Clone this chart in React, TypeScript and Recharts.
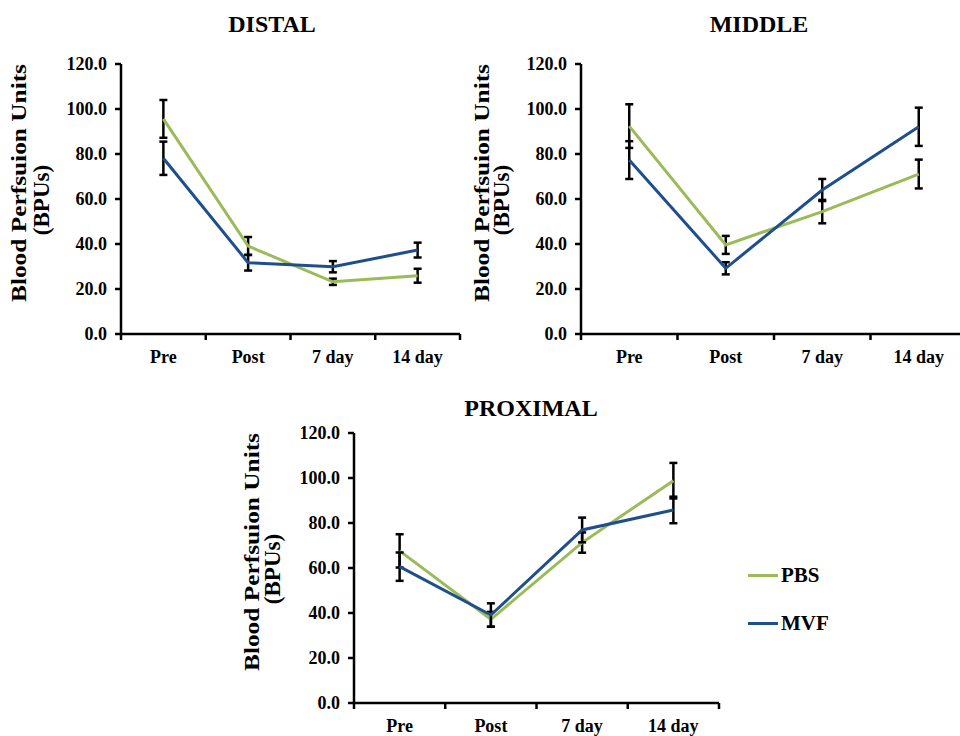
import React from 'react';
import { LineChart, Line, XAxis, YAxis, ErrorBar } from 'recharts';

const categories = ['Pre', 'Post', '7 day', '14 day'];
const yTicks = [0, 20, 40, 60, 80, 100, 120];

const distalPbs = [95.6, 39.1, 23.2, 25.9];
const distalPbsErr = [8.4, 4.0, 1.4, 3.1];
const distalMvf = [78.1, 31.7, 29.9, 37.3];
const distalMvfErr = [7.4, 3.5, 2.5, 3.3];

const middlePbs = [92.4, 39.6, 54.4, 71.1];
const middlePbsErr = [9.7, 4.0, 5.2, 6.4];
const middleMvf = [77.3, 29.2, 64.0, 92.1];
const middleMvfErr = [8.4, 2.7, 4.9, 8.5];

const proximalPbs = [67.6, 37.2, 71.3, 98.8];
const proximalPbsErr = [7.4, 3.3, 4.5, 7.9];
const proximalMvf = [60.6, 39.1, 76.9, 85.8];
const proximalMvfErr = [6.3, 5.2, 5.5, 5.9];

const GREEN = '#9BBB59';
const BLUE = '#1F4E8C';
const FONT = '"Liberation Serif", "Times New Roman", serif';

const buildRows = (pbs: number[], pbsErr: number[], mvf: number[], mvfErr: number[]) =>
  categories.map((cat, i) => ({ cat, pbs: pbs[i], pbsErr: pbsErr[i], mvf: mvf[i], mvfErr: mvfErr[i] }));

// two-line rotated axis title, placed relative to the axis line
const YTitle = ({ viewBox, off1, off2 }: any) => {
  if (!viewBox) return null;
  const ax = viewBox.x + viewBox.width;
  const cy = viewBox.y + viewBox.height / 2;
  const x1 = ax - off1;
  const y1 = cy - 16;
  const x2 = ax - off2;
  const y2 = cy + 1;
  return (
    <g>
      <text x={x1} y={y1} transform={`rotate(-90, ${x1}, ${y1})`} textAnchor="middle" dominantBaseline="central"
        fontFamily={FONT} fontWeight="bold" fontSize={22} fill="#000" textLength={238} lengthAdjust="spacingAndGlyphs">
        Blood Perfsuion Units
      </text>
      <text x={x2} y={y2} transform={`rotate(-90, ${x2}, ${y2})`} textAnchor="middle" dominantBaseline="central"
        fontFamily={FONT} fontWeight="bold" fontSize={23} fill="#000">
        (BPUs)
      </text>
    </g>
  );
};

// category label plus an Excel-style tick mark on the band boundary
const CatTick = ({ x, y, payload, bandHalf }: any) => {
  const half = payload && payload.offset ? payload.offset : bandHalf;
  const last = payload && payload.index === categories.length - 1;
  return (
    <g>
      <line x1={x - half} y1={y} x2={x - half} y2={y + 6} stroke="#000" strokeWidth={2.5} />
      {last && <line x1={x + half} y1={y} x2={x + half} y2={y + 6} stroke="#000" strokeWidth={2.5} />}
      <text x={x} y={y + 16} dy="0.71em" textAnchor="middle" fontFamily={FONT} fontWeight="bold" fontSize={18} fill="#000">
        {payload.value}
      </text>
    </g>
  );
};

const LegendBox = () => (
  <div style={{ position: 'absolute', left: 748, top: 563, fontFamily: FONT, fontWeight: 'bold', fontSize: 21 }}>
    {[{ name: 'PBS', color: GREEN }, { name: 'MVF', color: BLUE }].map((s, i) => (
      <div key={s.name} style={{ display: 'flex', alignItems: 'center', height: 24, marginBottom: i === 0 ? 24 : 0 }}>
        <span style={{ display: 'inline-block', width: 30, height: 3, background: s.color, marginRight: 3 }}></span>
        <span>{s.name}</span>
      </div>
    ))}
  </div>
);

type PanelProps = {
  left: number; top: number; width: number; height: number;
  margin: { top: number; right: number; bottom: number; left: number };
  axisWidth: number; off1: number; off2: number;
  rows: any[];
};

function Panel({ left, top, width, height, margin, axisWidth, off1, off2, rows }: PanelProps) {
  const bandHalf = (width - margin.left - margin.right - axisWidth) / 8;
  return (
    <div style={{ position: 'absolute', left, top }}>
      <LineChart width={width} height={height} data={rows} margin={margin}>
        <XAxis dataKey="cat" scale="band" height={30} tickLine={false} tickSize={0} tickMargin={0} interval={0}
          stroke="#000" strokeWidth={2.5} tick={(p: any) => <CatTick {...p} bandHalf={bandHalf} />} />
        <YAxis domain={[0, 120]} ticks={yTicks} width={axisWidth} tickSize={6} tickMargin={8}
          tickFormatter={(v: number) => v.toFixed(1)} stroke="#000" strokeWidth={2.5}
          tick={{ fill: '#000', fontFamily: FONT, fontWeight: 'bold', fontSize: 18 }}
          label={{ content: (p: any) => <YTitle {...p} off1={off1} off2={off2} /> }} />
        <Line dataKey="pbs" name="PBS" stroke={GREEN} strokeWidth={3} dot={false} isAnimationActive={false}>
          <ErrorBar dataKey="pbsErr" width={4} stroke="#000" strokeWidth={2.5} direction="y" isAnimationActive={false} />
        </Line>
        <Line dataKey="mvf" name="MVF" stroke={BLUE} strokeWidth={3} dot={false} isAnimationActive={false}>
          <ErrorBar dataKey="mvfErr" width={4} stroke="#000" strokeWidth={2.5} direction="y" isAnimationActive={false} />
        </Line>
      </LineChart>
    </div>
  );
}

const titleStyle: React.CSSProperties = {
  position: 'absolute', fontFamily: FONT, fontWeight: 'bold', fontSize: 24,
  transform: 'translate(-50%, -50%)', whiteSpace: 'nowrap', color: '#000',
};

export default function App() {
  return (
    <div style={{ position: 'absolute', left: 0, top: 0, width: 960, height: 736, overflow: 'hidden', background: '#fff' }}>
      <div style={{ ...titleStyle, left: 272, top: 24 }}>DISTAL</div>
      <div style={{ ...titleStyle, left: 759, top: 24 }}>MIDDLE</div>
      <div style={{ ...titleStyle, left: 531, top: 408 }}>PROXIMAL</div>

      <Panel left={0} top={0} width={480} height={380}
        margin={{ top: 64, right: 20, bottom: 16, left: 0 }} axisWidth={121} off1={103} off2={80}
        rows={buildRows(distalPbs, distalPbsErr, distalMvf, distalMvfErr)} />

      <Panel left={460} top={0} width={520} height={380}
        margin={{ top: 64, right: 13, bottom: 16, left: 0 }} axisWidth={121} off1={100} off2={80}
        rows={buildRows(middlePbs, middlePbsErr, middleMvf, middleMvfErr)} />

      <Panel left={230} top={380} width={510} height={356}
        margin={{ top: 53, right: 21, bottom: 3, left: 0 }} axisWidth={124} off1={103} off2={82}
        rows={buildRows(proximalPbs, proximalPbsErr, proximalMvf, proximalMvfErr)} />

      <LegendBox />
    </div>
  );
}
